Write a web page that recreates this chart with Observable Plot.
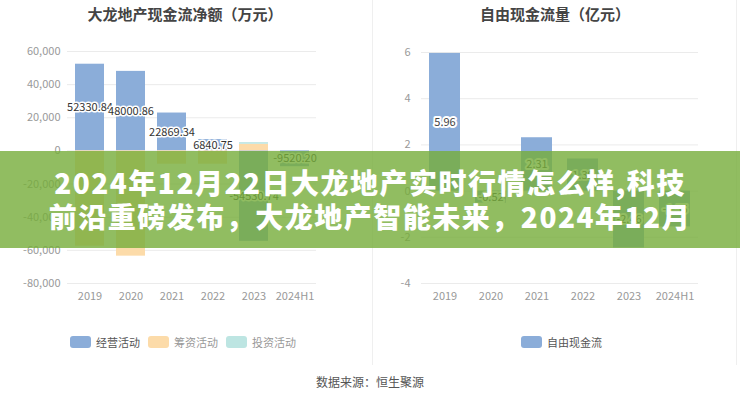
<!DOCTYPE html>
<html><head><meta charset="utf-8">
<script src="https://cdn.jsdelivr.net/npm/d3@7"></script>
<script src="https://cdn.jsdelivr.net/npm/@observablehq/plot@0.6"></script>
<style>
body{margin:0;background:#fff;font-family:"Noto Sans CJK SC","Noto Sans",sans-serif;}
#wrap{position:relative;width:740px;height:400px;overflow:hidden;background:#fff;}
.panel{position:absolute;top:0;width:370px;height:310px;}
.title{position:absolute;top:3px;width:370px;text-align:center;font-size:15px;font-weight:700;color:#444;line-height:22px;}
.legend{position:absolute;top:334px;display:flex;align-items:center;font-size:11px;}
.legend .item{display:flex;align-items:center;margin-right:8px;}
.legend .sw{width:21px;height:12px;border-radius:3px;margin-right:5px;}
.sep{position:absolute;top:0;width:1px;height:365px;background:#efefef;}
#banner{position:absolute;left:0;top:151px;width:740px;height:97px;background:rgba(118,172,58,0.8);
  color:#fff;font-weight:900;font-size:28px;letter-spacing:1.5px;line-height:34px;text-align:center;padding-top:14px;box-sizing:border-box;}
#foot{position:absolute;top:373px;width:740px;text-align:center;font-size:12px;color:#555;}
</style></head><body>
<div id="wrap">
  <div class="sep" style="left:372px"></div>
  <div class="sep" style="left:736px"></div>
  <div class="panel" id="left" style="left:0"></div>
  <div class="panel" id="right" style="left:370px"></div>
  <div class="title" style="left:0">大龙地产现金流净额（万元）</div>
  <div class="title" style="left:370px">自由现金流量（亿元）</div>
  <div class="legend" id="legL" style="left:70px"></div>
  <div class="legend" id="legR" style="left:521px"></div>
  <div id="banner">2024年12月22日大龙地产实时行情怎么样,科技<br>前沿重磅发布，大龙地产智能未来，2024年12月</div>
  <div id="foot">数据来源：恒生聚源</div>
</div>
<script>
const years = ["2019","2020","2021","2022","2023","2024H1"];
const seriesNames = ["经营活动","筹资活动","投资活动"];
const operating = [52330.84, 48000.86, 22869.34, 6840.75, -54530.74, -9520.20];
const financing = [-57500, -63500, -8000, -8000, 4000, 0];
const investing = [0, 0, 0, 0, 1000, 0];
const leftTicks = [-80000,-60000,-40000,-20000,0,20000,40000,60000];
const fcfName = "自由现金流";
const fcf = [5.96, -0.52, 2.31, 1.39, -2.46, -1.55];
const rightTicks = [-4,-2,0,2,4,6];

const colors = ["#8badd9","#fcdba9","#bde5e2"];
const font = '"Noto Sans CJK SC","Noto Sans",sans-serif';

const rows = [];
const seriesVals = [operating, financing, investing];
seriesNames.forEach((s, k) => years.forEach((y, i) => rows.push({year: y, series: s, value: seriesVals[k][i]})));
const opRows = years.map((y, i) => ({year: y, value: operating[i]}));
const fcfRows = years.map((y, i) => ({year: y, value: fcf[i]}));

const left = Plot.plot({
  width: 370, height: 310, marginTop: 51, marginBottom: 27, marginLeft: 67, marginRight: 54,
  style: {fontFamily: font, fontSize: "11px", background: "transparent", color: "#999"},
  x: {domain: years, paddingInner: 0.3, paddingOuter: 0.15, label: null},
  y: {domain: [-80000, 60000], label: null},
  color: {domain: seriesNames, range: colors},
  marks: [
    Plot.gridY(leftTicks, {stroke: "#ebebeb", strokeOpacity: 1}),
    Plot.axisY(leftTicks, {tickSize: 0, tickPadding: 7, tickFormat: d => d.toLocaleString("en-US"), fill: "#999", label: null}),
    Plot.axisX({tickSize: 0, tickPadding: 9, fill: "#999", label: null}),
    Plot.barY(rows, {x: "year", y: "value", fill: "series", z: "series"}),
    Plot.text(opRows, {x: "year", y: d => d.value / 2, text: d => d.value.toFixed(2), fill: "#333", stroke: "white", strokeWidth: 3, fontSize: 11})
  ]
});
document.getElementById("left").appendChild(left);

const right = Plot.plot({
  width: 370, height: 310, marginTop: 52, marginBottom: 27, marginLeft: 51, marginRight: 42,
  style: {fontFamily: font, fontSize: "11px", background: "transparent", color: "#999"},
  x: {domain: years, paddingInner: 0.32, paddingOuter: 0.16, label: null},
  y: {domain: [-4, 6], label: null},
  marks: [
    Plot.gridY(rightTicks, {stroke: "#ebebeb", strokeOpacity: 1}),
    Plot.axisY(rightTicks, {tickSize: 0, tickPadding: 11, tickFormat: d => String(d), fill: "#999", label: null}),
    Plot.axisX({tickSize: 0, tickPadding: 9, fill: "#999", label: null}),
    Plot.barY(fcfRows, {x: "year", y: "value", fill: colors[0]}),
    Plot.text(fcfRows, {x: "year", y: d => d.value / 2, text: d => d.value.toFixed(2), fill: "#444", stroke: "white", strokeWidth: 4, fontSize: 11})
  ]
});
document.getElementById("right").appendChild(right);

const legL = document.getElementById("legL");
seriesNames.forEach((s, k) => {
  const it = document.createElement("div"); it.className = "item";
  it.innerHTML = `<span class="sw" style="background:${colors[k]}"></span><span style="color:${k === 0 ? '#555' : '#999'}">${s}</span>`;
  legL.appendChild(it);
});
document.getElementById("legR").innerHTML = `<div class="item"><span class="sw" style="background:${colors[0]}"></span><span style="color:#555">${fcfName}</span></div>`;
</script>
</body></html>
